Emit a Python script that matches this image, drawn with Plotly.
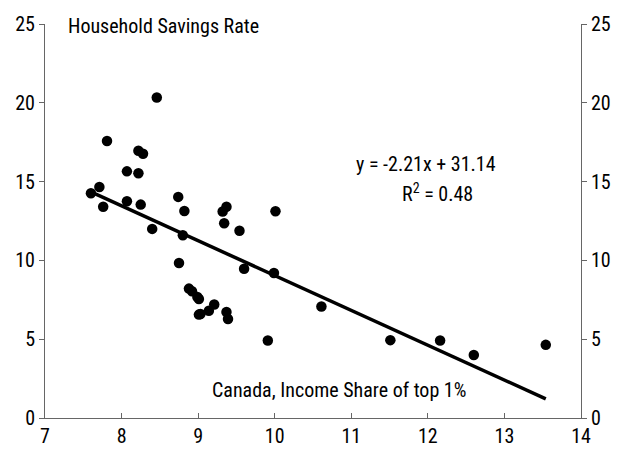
import plotly.graph_objects as go

# Canada: income share of top 1% (x) vs household savings rate (y)
income_share = [7.60, 7.71, 7.76, 7.81, 8.07, 8.07, 8.22, 8.28, 8.22, 8.25,
                8.40, 8.46, 8.74, 8.75, 8.80, 8.82, 8.88, 8.92, 8.99, 9.01,
                9.01, 9.03, 9.14, 9.21, 9.32, 9.37, 9.34, 9.37, 9.39, 9.54,
                9.60, 9.91, 9.99, 10.01, 10.61, 11.51, 12.16, 12.60, 13.54]
savings_rate = [14.26, 14.66, 13.40, 17.58, 15.65, 13.75, 16.96, 16.77, 15.53, 13.54,
                12.00, 20.34, 14.03, 9.83, 11.60, 13.13, 8.21, 8.04, 7.68, 7.55,
                6.56, 6.60, 6.80, 7.20, 13.10, 13.40, 12.36, 6.73, 6.28, 11.88,
                9.47, 4.92, 9.20, 13.12, 7.07, 4.94, 4.92, 4.00, 4.64]

slope = -2.21
intercept = 31.14
r_squared = 0.48

x_ticks = [7, 8, 9, 10, 11, 12, 13, 14]
y_ticks = [0, 5, 10, 15, 20, 25]

FONT = "Liberation Sans Narrow, Arial Narrow, Roboto Condensed, sans-serif"

x_fit = [min(income_share), max(income_share)]
y_fit = [slope * v + intercept for v in x_fit]

fig = go.Figure()
fig.add_trace(go.Scatter(x=income_share, y=savings_rate, mode="markers",
                         marker=dict(color="black", size=10.5), showlegend=False,
                         hoverinfo="x+y"))
fig.add_trace(go.Scatter(x=x_fit, y=y_fit, mode="lines",
                         line=dict(color="black", width=3.5), showlegend=False))
fig.add_trace(go.Scatter(x=[x_ticks[0]], y=[y_ticks[0]], yaxis="y2", mode="markers",
                         marker=dict(opacity=0), showlegend=False, hoverinfo="skip"))

axis_font = dict(family=FONT, size=20, color="black")
line_col = "#666"
fig.update_layout(
    width=623, height=460,
    margin=dict(l=45, r=37, t=24, b=37),
    paper_bgcolor="white", plot_bgcolor="white",
    font=axis_font,
    xaxis=dict(range=[7, 14], tickvals=x_ticks, ticks="inside", ticklen=5,
               tickcolor=line_col, showline=True, linecolor=line_col, linewidth=1,
               showgrid=False, zeroline=False, tickfont=axis_font),
    yaxis=dict(range=[0, 25], tickvals=y_ticks, ticks="outside", ticklen=5,
               tickcolor=line_col, showline=True, linecolor=line_col, linewidth=1,
               showgrid=False, zeroline=False, tickfont=axis_font),
    yaxis2=dict(range=[0, 25], tickvals=y_ticks, ticks="outside", ticklen=5,
                tickcolor=line_col, showline=True, linecolor=line_col, linewidth=1,
                showgrid=False, zeroline=False, overlaying="y", side="right",
                tickfont=axis_font),
    annotations=[
        dict(text="Household Savings Rate", x=7.28, y=24.9, xref="x", yref="y",
             xanchor="left", yanchor="middle", showarrow=False, font=axis_font),
        dict(text=f"y = {slope:.2f}x + {intercept:.2f}", x=11.98, y=16.13,
             xref="x", yref="y", xanchor="center", yanchor="middle",
             showarrow=False, font=axis_font),
        dict(text=f"R<sup>2</sup> = {r_squared:.2f}", x=12.12, y=14.3,
             xref="x", yref="y", xanchor="center", yanchor="middle",
             showarrow=False, font=axis_font),
        dict(text="Canada, Income Share of top 1%", x=10.84, y=1.75,
             xref="x", yref="y", xanchor="center", yanchor="middle",
             showarrow=False, font=axis_font),
    ],
)

fig.write_html("out.html", config={"displayModeBar": False},
               post_script="document.body.style.margin='0px';")
